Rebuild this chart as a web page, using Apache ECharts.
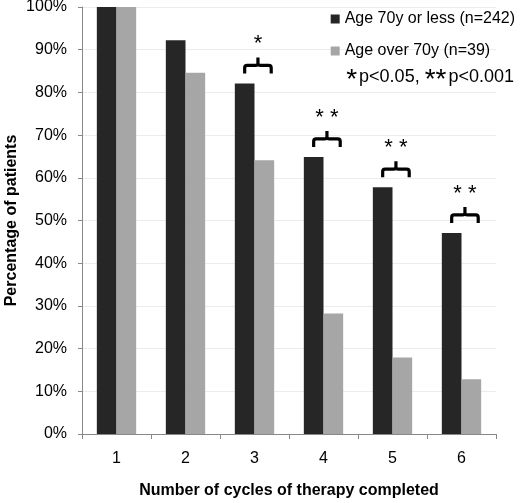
<!DOCTYPE html>
<html>
<head>
<meta charset="utf-8">
<script src="https://cdn.jsdelivr.net/npm/echarts@6/dist/echarts.min.js"></script>
<style>
  html, body { margin: 0; padding: 0; background: #fff; }
  #first { width: 520px; height: 503px; }
</style>
</head>
<body>
<div id="first"></div>
<script>
// data
var cycles = ['1', '2', '3', '4', '5', '6'];
var under70 = [100, 92.2, 82.1, 64.9, 57.8, 47.1];
var over70 = [100, 84.6, 64.1, 28.2, 17.9, 12.8];
var stars = ['', '', '*', '**', '**', '**'];
var yTicks = [0, 10, 20, 30, 40, 50, 60, 70, 80, 90, 100];

var FONT = 'Liberation Sans, Arial, sans-serif';
var CAT_GAP = '43%';

var braceData = [];
for (var i = 0; i < cycles.length; i++) {
    if (stars[i]) braceData.push([i, under70[i], stars[i]]);
}

function renderBrace(params, api) {
    var p = api.coord([api.value(0), api.value(1)]);
    var catW = api.size([1, 0])[0];
    var bw = catW * (1 - 0.43) / 2;
    var cx = p[0];
    var left = cx - bw * 0.5;
    var right = cx + bw * 0.85;
    var mid = (left + right) / 2;
    var yb = p[1] - 10;
    var yh = yb - 8;
    var yt = yh - 8;
    var r = 2.5;
    var path = 'M' + left + ',' + yb +
        ' L' + left + ',' + (yh + r) +
        ' Q' + left + ',' + yh + ' ' + (left + r) + ',' + yh +
        ' L' + (mid - r) + ',' + yh +
        ' Q' + mid + ',' + yh + ' ' + mid + ',' + (yh - r) +
        ' L' + mid + ',' + yt +
        ' M' + mid + ',' + (yh - r) +
        ' Q' + mid + ',' + yh + ' ' + (mid + r) + ',' + yh +
        ' L' + (right - r) + ',' + yh +
        ' Q' + right + ',' + yh + ' ' + right + ',' + (yh + r) +
        ' L' + right + ',' + yb;
    return {
        type: 'group',
        children: [
            {
                type: 'path',
                shape: { pathData: path },
                style: { fill: 'none', stroke: '#000', lineWidth: 3.2 }
            },
            {
                type: 'text',
                x: mid,
                y: yt - 2,
                style: {
                    text: api.value(2).split('').join(' '),
                    font: '22px ' + FONT,
                    fill: '#000',
                    align: 'center',
                    verticalAlign: 'bottom'
                }
            }
        ]
    };
}

var myChart = echarts.init(document.getElementById('first'));
option = {
    animation: false,
    textStyle: { fontFamily: FONT },
    grid: { left: 82, right: 24, top: 7, bottom: 69, outerBoundsMode: 'none', containLabel: false },
    legend: {
        orient: 'vertical',
        right: 0,
        top: 6,
        itemWidth: 9,
        itemHeight: 9,
        itemGap: 16,
        icon: 'rect',
        textStyle: { fontSize: 16, color: '#000', fontFamily: FONT },
        data: ['Age 70y or less (n=242)', 'Age over 70y (n=39)']
    },
    graphic: [{
        type: 'text',
        right: 6,
        top: 66,
        style: {
            text: '{s|*}p<0.05, {s|**}p<0.001',
            font: '18px ' + FONT,
            fill: '#000',
            rich: {
                s: { fontSize: 28, verticalAlign: 'top', lineHeight: 22, padding: [0, 2, 12, 0] }
            }
        }
    }],
    xAxis: {
        type: 'category',
        data: cycles,
        name: 'Number of cycles of therapy completed',
        nameLocation: 'middle',
        nameGap: 49,
        nameMoveOverlap: false,
        nameTextStyle: { fontSize: 16, fontWeight: 'bold', color: '#000' },
        axisLine: { lineStyle: { color: '#888' } },
        axisTick: { show: true, length: 5, lineStyle: { color: '#888' } },
        axisLabel: { fontSize: 16, color: '#000', margin: 17 },
        splitLine: { show: false }
    },
    yAxis: {
        type: 'value',
        min: 0,
        max: 100,
        interval: 10,
        name: 'Percentage of patients',
        nameLocation: 'middle',
        nameGap: 62,
        nameMoveOverlap: false,
        nameTextStyle: { fontSize: 16, fontWeight: 'bold', color: '#000' },
        axisLine: { show: true, lineStyle: { color: '#888' } },
        axisTick: { show: true, length: 4, lineStyle: { color: '#888' } },
        axisLabel: {
            fontSize: 16,
            color: '#000',
            margin: 15,
            formatter: function (v) { return yTicks.indexOf(v) >= 0 ? v + '%' : ''; }
        },
        splitLine: { show: true, lineStyle: { color: '#ececec' } }
    },
    series: [
        {
            name: 'Age 70y or less (n=242)',
            type: 'bar',
            data: under70,
            barGap: '0%',
            barCategoryGap: CAT_GAP,
            itemStyle: { color: '#262626' }
        },
        {
            name: 'Age over 70y (n=39)',
            type: 'bar',
            data: over70,
            barGap: '0%',
            barCategoryGap: CAT_GAP,
            itemStyle: { color: '#a6a6a6' }
        },
        {
            type: 'custom',
            renderItem: renderBrace,
            data: braceData,
            silent: true,
            z: 5
        }
    ]
};
myChart.setOption(option);
</script>
</body>
</html>
